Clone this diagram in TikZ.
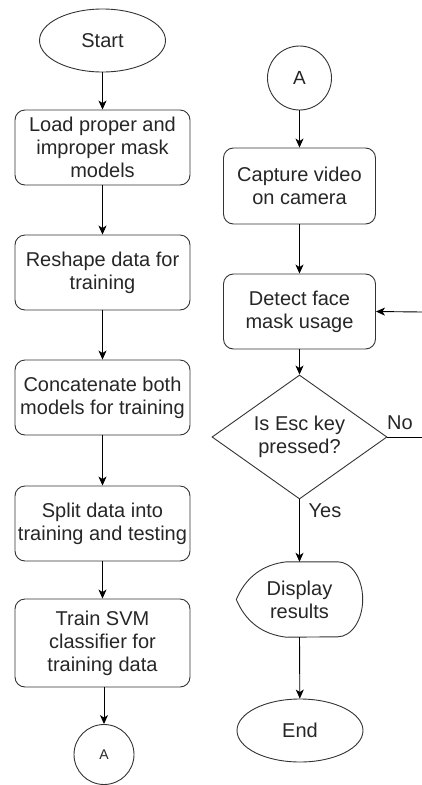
\documentclass[tikz,border=0pt]{standalone}
\usepackage{fontspec}
\setmainfont{Liberation Sans}
\usetikzlibrary{arrows.meta,shapes.geometric}
\begin{document}
\begin{tikzpicture}[x=1pt,y=-1pt,
  txt/.style={font=\fontsize{20}{23}\selectfont, text=black!85, align=center, inner sep=0pt},
  proc/.style={txt, draw=black!80, rounded corners=10pt, line width=0.9pt},
  term/.style={txt, draw=black!80, ellipse, minimum width=126pt, minimum height=63pt, line width=0.9pt},
  conn/.style={draw=black!80, circle, inner sep=0pt, text=black!85, line width=0.9pt},
  arr/.style={-{Stealth[length=9pt,width=8pt,inset=2.5pt]}, line width=0.9pt},
  ln/.style={line width=0.9pt}
]
\useasboundingbox (0,0) rectangle (422,785);
% left column
\node[term] (start) at (102.5,40.5) {Start};
\node[proc, minimum width=175pt, minimum height=75pt] (load) at (102.5,147.5) {Load proper and\\improper mask\\models};
\node[proc, minimum width=175pt, minimum height=75pt] (resh) at (102.5,272.5) {Reshape data for\\training};
\node[proc, minimum width=175pt, minimum height=75pt] (conc) at (102.5,397.5) {Concatenate both\\models for training};
\node[proc, minimum width=175pt, minimum height=75pt] (split) at (102.5,523.5) {Split data into\\training and testing};
\node[proc, minimum width=175pt, minimum height=88pt] (train) at (102.5,643) {Train SVM\\classifier for\\training data};
\node[conn, minimum size=60pt, font=\fontsize{14}{16}\selectfont] (a1) at (104,754.5) {A};
\draw[arr] (start) -- (load);
\draw[arr] (load) -- (resh);
\draw[arr] (resh) -- (conc);
\draw[arr] (conc) -- (split);
\draw[arr] (split) -- (train);
\draw[arr] (train.south -| a1) -- (a1);
% right column
\node[conn, minimum size=64pt, font=\fontsize{19}{22}\selectfont] (a2) at (299.5,78) {A};
\node[proc, minimum width=152pt, minimum height=76pt] (cap) at (299.5,186) {Capture video\\on camera};
\node[proc, minimum width=152pt, minimum height=75pt] (det) at (299.5,311.5) {Detect face\\mask usage};
\node[draw=black!80, diamond, minimum width=175pt, minimum height=124pt, inner sep=0pt, line width=0.9pt] (dec) at (299.5,437) {};
\node[txt] (dect) at (dec) {Is Esc key\\pressed?};
\node[txt, minimum width=126pt, minimum height=75pt] (disp) at (299.5,599.5) {Display\\results};
\draw[ln, draw=black!80] ([xshift=-25pt]disp.north east)
   arc[start angle=-90, end angle=90, x radius=25, y radius=37.5]
   -- ([xshift=50pt]disp.south west)
   .. controls (262.3,634.3) and (245.7,621.7) .. (disp.west)
   .. controls (245.7,577.3) and (262.3,564.7) .. ([xshift=50pt]disp.north west) -- cycle;
\node[term] (end) at (300,730.5) {End};
\coordinate (fbin) at (422,312);
\coordinate (noout) at (422,437);
\draw[arr] (a2) -- (cap);
\draw[arr] (cap) -- (det);
\draw[arr] (det) -- (dec);
\draw[arr] (dec.south) -- (disp.north);
\draw[arr] (disp.south) -- (end);
\draw[ln] (dec.east) -- (noout);
\draw[arr] (fbin) -- (det.east);
\node[txt] (no) at (400,423) {No};
\node[txt] (yes) at (325,511) {Yes};
\end{tikzpicture}
\end{document}
